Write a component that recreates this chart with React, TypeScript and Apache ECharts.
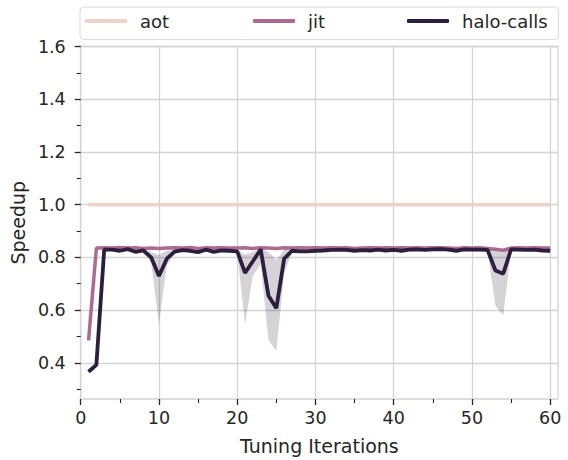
import React, { useEffect, useRef } from "react";
import * as echarts from "echarts";

const iterations = [
  1, 2, 3, 4, 5, 6, 7, 8, 9, 10, 11, 12, 13, 14, 15, 16, 17, 18, 19, 20,
  21, 22, 23, 24, 25, 26, 27, 28, 29, 30, 31, 32, 33, 34, 35, 36, 37, 38, 39, 40,
  41, 42, 43, 44, 45, 46, 47, 48, 49, 50, 51, 52, 53, 54, 55, 56, 57, 58, 59, 60,
];

const aot = [
  1.0, 1.0, 1.0, 1.0, 1.0, 1.0, 1.0, 1.0, 1.0, 1.0, 1.0, 1.0, 1.0, 1.0, 1.0, 1.0, 1.0, 1.0, 1.0, 1.0,
  1.0, 1.0, 1.0, 1.0, 1.0, 1.0, 1.0, 1.0, 1.0, 1.0, 1.0, 1.0, 1.0, 1.0, 1.0, 1.0, 1.0, 1.0, 1.0, 1.0,
  1.0, 1.0, 1.0, 1.0, 1.0, 1.0, 1.0, 1.0, 1.0, 1.0, 1.0, 1.0, 1.0, 1.0, 1.0, 1.0, 1.0, 1.0, 1.0, 1.0,
];

const jit = [
  0.485, 0.835, 0.836, 0.835, 0.837, 0.835, 0.836, 0.834, 0.835, 0.834,
  0.835, 0.836, 0.835, 0.837, 0.834, 0.836, 0.835, 0.836, 0.835, 0.835,
  0.836, 0.834, 0.836, 0.835, 0.834, 0.836, 0.835, 0.836, 0.835, 0.836,
  0.835, 0.836, 0.835, 0.836, 0.834, 0.835, 0.836, 0.835, 0.836, 0.835,
  0.836, 0.835, 0.836, 0.835, 0.836, 0.836, 0.835, 0.834, 0.836, 0.835,
  0.836, 0.834, 0.831, 0.827, 0.835, 0.836, 0.835, 0.836, 0.835, 0.835,
];

const halo = [
  0.366, 0.392, 0.829, 0.829, 0.825, 0.831, 0.821, 0.826, 0.8, 0.729,
  0.795, 0.822, 0.827, 0.825, 0.82, 0.829, 0.821, 0.826, 0.825, 0.823,
  0.741, 0.785, 0.83, 0.654, 0.607, 0.795, 0.825, 0.823, 0.823, 0.825,
  0.826, 0.828, 0.829, 0.828, 0.825, 0.827, 0.826, 0.829, 0.826, 0.828,
  0.825, 0.829, 0.83, 0.828, 0.83, 0.831, 0.829, 0.825, 0.83, 0.829,
  0.829, 0.828, 0.75, 0.738, 0.83, 0.829, 0.828, 0.829, 0.826, 0.825,
];

const haloLower = [
  0.36, 0.385, 0.823, 0.823, 0.818, 0.825, 0.814, 0.819, 0.78, 0.547,
  0.77, 0.815, 0.821, 0.819, 0.814, 0.823, 0.815, 0.82, 0.819, 0.816,
  0.547, 0.73, 0.775, 0.485, 0.445, 0.74, 0.819, 0.817, 0.817, 0.819,
  0.82, 0.822, 0.823, 0.822, 0.819, 0.821, 0.82, 0.823, 0.82, 0.822,
  0.819, 0.823, 0.824, 0.822, 0.824, 0.825, 0.823, 0.819, 0.824, 0.823,
  0.823, 0.822, 0.616, 0.579, 0.824, 0.823, 0.822, 0.823, 0.82, 0.819,
];

const haloUpper = [
  0.372, 0.399, 0.835, 0.835, 0.831, 0.837, 0.828, 0.832, 0.82, 0.81,
  0.825, 0.828, 0.833, 0.831, 0.826, 0.835, 0.827, 0.832, 0.831, 0.829,
  0.81, 0.82, 0.836, 0.82, 0.79, 0.83, 0.831, 0.829, 0.829, 0.831,
  0.832, 0.834, 0.835, 0.834, 0.831, 0.833, 0.832, 0.835, 0.832, 0.834,
  0.831, 0.835, 0.836, 0.834, 0.836, 0.837, 0.835, 0.831, 0.836, 0.835,
  0.835, 0.834, 0.825, 0.82, 0.836, 0.835, 0.834, 0.835, 0.832, 0.831,
];

const xMajorTicks = [0, 10, 20, 30, 40, 50, 60];
const xMinorTicks = [5, 15, 25, 35, 45, 55];
const yMajorTicks = [0.4, 0.6, 0.8, 1.0, 1.2, 1.4, 1.6];
const yMinorTicks = [0.3, 0.5, 0.7, 0.9, 1.1, 1.3, 1.5];

const seriesNames = ["aot", "jit", "halo-calls"];
const colors = ["#edd1cb", "#ad6a91", "#2d1e3e"];

const FONT = "DejaVu Sans";
const TEXT = "#262626";
const GRIDC = "#d4d4d4";

export default function App() {
  const ref = useRef<HTMLDivElement>(null);
  useEffect(() => {
    if (!ref.current) return;
    const chart = echarts.init(ref.current, undefined, { renderer: "svg" });
    const pair = (ys: number[]) => iterations.map((x, i) => [x, ys[i]]);
    const xRange = { min: 0, max: 61 };
    const yRange = { min: 0.2625, max: 1.6 };
    const legendLefts = [85, 253, 407];
    const legends = seriesNames.map((name, i) => ({
      left: legendLefts[i],
      top: 12,
      padding: 0,
      itemWidth: 42,
      itemHeight: 4,
      icon: "roundRect",
      formatter: (n: string) => "{g| }{t|" + n + "}",
      textStyle: {
        fontSize: 18,
        color: TEXT,
        fontFamily: FONT,
        rich: {
          g: { width: 8, fontSize: 18, fontFamily: FONT },
          t: { fontSize: 18, color: TEXT, fontFamily: FONT },
        },
      },
      data: [name],
    }));
    chart.setOption({
      animation: false,
      textStyle: { fontFamily: FONT },
      grid: {
        left: 80,
        right: 10,
        top: 46.5,
        bottom: 57.5,
        show: true,
        borderColor: GRIDC,
        borderWidth: 1.3,
      },
      graphic: [
        {
          type: "rect",
          left: 79.5,
          top: 6.5,
          shape: { width: 478.5, height: 32.5, r: 4 },
          style: { fill: "rgba(255,255,255,0.8)", stroke: "#d9d9d9", lineWidth: 1 },
          z: 0,
          silent: true,
        },
      ],
      legend: legends,
      xAxis: [
        {
          type: "value",
          ...xRange,
          name: "Tuning Iterations",
          nameLocation: "middle",
          nameGap: 37,
          nameTextStyle: { fontSize: 19, color: TEXT, fontFamily: FONT },
          axisLine: { show: false },
          axisTick: { show: true, length: 6, customValues: xMajorTicks, lineStyle: { color: TEXT, width: 1.3 } },
          axisLabel: { customValues: xMajorTicks, fontSize: 17.5, color: TEXT, fontFamily: FONT, margin: 10 },
          splitLine: { show: true, lineStyle: { color: GRIDC, width: 1.3 } },
        },
        {
          type: "value",
          ...xRange,
          position: "bottom",
          axisLine: { show: false },
          axisTick: { show: true, length: 4, customValues: xMinorTicks, lineStyle: { color: TEXT, width: 1.1 } },
          axisLabel: { show: false },
          splitLine: { show: false },
        },
      ],
      yAxis: [
        {
          type: "value",
          ...yRange,
          name: "Speedup",
          nameLocation: "middle",
          nameGap: 52,
          nameTextStyle: { fontSize: 19, color: TEXT, fontFamily: FONT },
          axisLine: { show: false },
          axisTick: { show: true, length: 6, customValues: yMajorTicks, lineStyle: { color: TEXT, width: 1.3 } },
          axisLabel: {
            customValues: yMajorTicks,
            fontSize: 17.5,
            color: TEXT,
            fontFamily: FONT,
            margin: 15,
            formatter: (v: number) => v.toFixed(1),
          },
          splitLine: { show: true, lineStyle: { color: GRIDC, width: 1.3 } },
        },
        {
          type: "value",
          ...yRange,
          position: "left",
          axisLine: { show: false },
          axisTick: { show: true, length: 4, customValues: yMinorTicks, lineStyle: { color: TEXT, width: 1.1 } },
          axisLabel: { show: false },
          splitLine: { show: false },
        },
      ],
      series: [
        {
          name: "aot",
          type: "line",
          data: pair(aot),
          symbol: "none",
          lineStyle: { color: colors[0], width: 3.5 },
          itemStyle: { color: colors[0] },
          z: 2,
        },
        {
          name: "jit",
          type: "line",
          data: pair(jit),
          symbol: "none",
          lineStyle: { color: colors[1], width: 3.5 },
          itemStyle: { color: colors[1] },
          z: 3,
        },
        {
          name: "halo-band",
          type: "custom",
          data: iterations.map((x, i) => [x, haloLower[i], haloUpper[i]]),
          encode: { x: 0, y: [1, 2] },
          silent: true,
          z: 4,
          renderItem: (params: any, api: any) => {
            if (params.dataIndex !== 0) return null;
            const pts: number[][] = [];
            for (let i = 0; i < iterations.length; i++) pts.push(api.coord([iterations[i], haloUpper[i]]));
            for (let i = iterations.length - 1; i >= 0; i--) pts.push(api.coord([iterations[i], haloLower[i]]));
            return {
              type: "polygon",
              shape: { points: pts },
              style: { fill: "rgba(45,30,62,0.2)", stroke: "none" },
            };
          },
        },
        {
          name: "halo-calls",
          type: "line",
          data: pair(halo),
          symbol: "none",
          lineStyle: { color: colors[2], width: 3.8 },
          itemStyle: { color: colors[2] },
          z: 5,
        },
      ],
    });
    return () => chart.dispose();
  }, []);
  return <div ref={ref} style={{ position: "absolute", left: 0, top: 0, width: 568, height: 460 }} />;
}
